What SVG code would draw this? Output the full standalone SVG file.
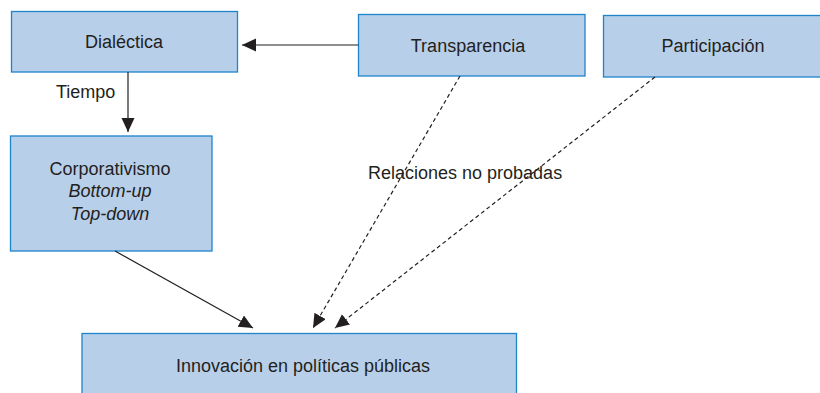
<svg xmlns="http://www.w3.org/2000/svg" width="820" height="393" viewBox="0 0 820 393">
<defs>
<style>
.box{fill:#b8cfea;stroke:#1e84cc;stroke-width:1.3}
.t{font-family:"Liberation Sans",Arial,sans-serif;font-size:18px;fill:#231f20;text-anchor:middle}
.lbl{font-family:"Liberation Sans",Arial,sans-serif;font-size:18px;fill:#231f20}
.it{font-style:italic}
.c{stroke:#231f20;stroke-width:1.2;fill:none}
.d{stroke-dasharray:4 3}
</style>
<marker id="ah" markerUnits="userSpaceOnUse" markerWidth="15" markerHeight="14" refX="14" refY="6.5" orient="auto">
<path d="M0,0 L14,6.5 L0,13 z" fill="#231f20"/>
</marker>
</defs>
<rect width="820" height="393" fill="#fff"/>
<g id="dialectica">
<rect class="box" x="11.5" y="11.5" width="226" height="60.5"/>
<text class="t" x="124" y="48">Dialéctica</text>
</g>
<g id="transparencia">
<rect class="box" x="358.5" y="14.5" width="226.5" height="61.5"/>
<text class="t" x="468" y="52">Transparencia</text>
</g>
<g id="participacion">
<rect class="box" x="603.5" y="15.5" width="230" height="61.5"/>
<text class="t" x="713" y="52">Participación</text>
</g>
<g id="corporativismo">
<rect class="box" x="10.5" y="136" width="201.5" height="115"/>
<text class="t" x="110" y="175">Corporativismo</text>
<text class="t it" x="110" y="197">Bottom-up</text>
<text class="t it" x="110" y="220">Top-down</text>
</g>
<g id="innovacion">
<rect class="box" x="82" y="333.5" width="434.5" height="70"/>
<text class="t" x="303" y="372">Innovación en políticas públicas</text>
</g>
<g id="connectors">
<line class="c" x1="358.5" y1="45" x2="242" y2="45" marker-end="url(#ah)"/>
<line class="c" x1="128" y1="72" x2="128" y2="132" marker-end="url(#ah)"/>
<line class="c" x1="115" y1="251" x2="253" y2="328" marker-end="url(#ah)"/>
<line class="c d" x1="460" y1="76" x2="313" y2="328" marker-end="url(#ah)"/>
<line class="c d" x1="655" y1="77" x2="335" y2="328" marker-end="url(#ah)"/>
<text class="lbl" x="56" y="98">Tiempo</text>
<text class="lbl" x="368" y="179">Relaciones no probadas</text>
</g>
</svg>
